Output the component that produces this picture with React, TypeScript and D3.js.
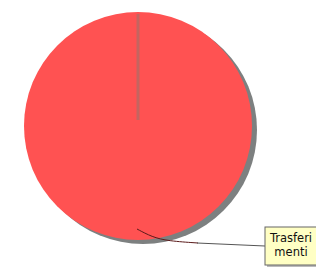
import * as d3 from 'd3';
import { useRef, useEffect } from 'react';

const categories = ['Trasferimenti'];
const values = [100];
const labelLines = ['Trasferi', 'menti'];

export default function App() {
  const ref = useRef<SVGSVGElement>(null);
  const width = 316;
  const height = 271;
  const cx = 138;
  const cy = 126;
  const radius = 114;

  useEffect(() => {
    const svg = d3.select(ref.current);
    svg.selectAll('*').remove();

    const pie = d3.pie<number>().sort(null)(values);
    const arc = d3.arc<d3.PieArcDatum<number>>().innerRadius(0).outerRadius(radius);

    // shadow
    svg.append('g')
      .attr('transform', `translate(${cx + 5},${cy + 4})`)
      .selectAll('path')
      .data(pie)
      .join('path')
      .attr('d', arc)
      .attr('fill', '#7d8080');

    const g = svg.append('g').attr('transform', `translate(${cx},${cy})`);
    g.selectAll('path')
      .data(pie)
      .join('path')
      .attr('d', arc)
      .attr('fill', '#ff5252');

    // slice edge from center to start angle
    g.append('line')
      .attr('x1', 0).attr('y1', -6)
      .attr('x2', 0).attr('y2', -radius + 2)
      .attr('stroke', '#c46560')
      .attr('stroke-width', 3);

    // leader line
    const mid = (pie[0].startAngle + pie[0].endAngle) / 2;
    const px = cx + Math.sin(mid) * (radius - 12);
    const py = cy - Math.cos(mid) * (radius - 12);
    const line = d3.line().curve(d3.curveBasis);
    svg.append('path')
      .attr('d', line([[px - 1, py + 1], [px + 14, py + 9], [px + 30, py + 13], [px + 60, py + 15]]))
      .attr('fill', 'none')
      .attr('stroke', '#5a1a1a')
      .attr('stroke-width', 1);
    svg.append('path')
      .attr('d', line([[px + 59, py + 15], [265, 246]]))
      .attr('fill', 'none')
      .attr('stroke', '#555')
      .attr('stroke-width', 1);

    const box = svg.append('g').attr('transform', 'translate(265,227)');
    box.append('rect')
      .attr('x', 2).attr('y', 2).attr('width', 64).attr('height', 38)
      .attr('fill', '#bbb');
    box.append('rect')
      .attr('x', 0).attr('y', 0).attr('width', 64).attr('height', 38)
      .attr('fill', '#ffffc4')
      .attr('stroke', '#666')
      .attr('stroke-width', 1);
    box.selectAll('text')
      .data(labelLines)
      .join('text')
      .attr('x', 26)
      .attr('y', (d, i) => 15 + i * 14)
      .attr('text-anchor', 'middle')
      .attr('font-family', 'DejaVu Sans')
      .attr('font-size', 11.5)
      .attr('fill', '#111')
      .text((d) => d);
    box.append('title').text(categories[0]);
  });

  return (
    <svg
      ref={ref}
      width={width}
      height={height}
      style={{ position: 'absolute', left: 0, top: 0, background: '#fff' }}
    />
  );
}
